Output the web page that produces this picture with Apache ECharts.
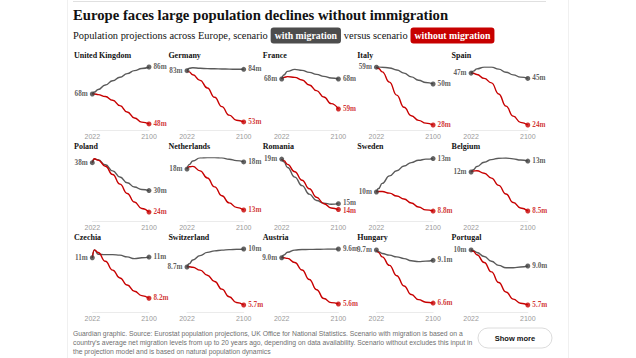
<!DOCTYPE html>
<html><head><meta charset="utf-8">
<script src="https://cdn.jsdelivr.net/npm/echarts@6/dist/echarts.min.js"></script>
<style>html,body{margin:0;padding:0;background:#fff}#c{width:636px;height:358px}</style>
</head><body><div id="c"></div>
<script>
// ---------- data ----------
const YEARS = [2022, 2025, 2030, 2040, 2050, 2060, 2070, 2080, 2090, 2100];
const X_TICKS = [2022, 2100];
const COUNTRIES = ['United Kingdom','Germany','France','Italy','Spain',
  'Poland','Netherlands','Romania','Sweden','Belgium',
  'Czechia','Switzerland','Austria','Hungary','Portugal'];
// population (millions), scenario with migration
const WITH_MIGRATION = [
  [68, 69.3, 71, 74, 76.8, 79.2, 81.6, 83.6, 85, 86],
  [83.2, 84.6, 84.9, 84.6, 84.4, 84.3, 84.2, 84.1, 84.0, 84.0],
  [68, 69.2, 70.3, 70.9, 70.6, 70, 69.4, 68.8, 68.3, 68],
  [59, 59.1, 59, 58.6, 57.5, 55.8, 53.8, 52, 50.8, 50],
  [47.4, 48.3, 49.3, 50.1, 50.1, 49.2, 47.8, 46.6, 45.6, 45],
  [37.8, 38.8, 38.6, 37.2, 35.5, 33.8, 32.2, 31, 30.3, 30],
  [17.6, 18.1, 18.5, 18.85, 18.9, 18.9, 18.85, 18.7, 18.55, 18.4],
  [19, 18.75, 18.2, 17.3, 16.5, 15.7, 15.1, 14.85, 14.75, 14.8],
  [10.45, 10.75, 11.2, 11.85, 12.3, 12.7, 13.0, 13.2, 13.3, 13.35],
  [11.7, 11.9, 12.15, 12.5, 12.72, 12.83, 12.85, 12.78, 12.68, 12.6],
  [10.5, 10.95, 10.7, 10.68, 10.68, 10.65, 10.55, 10.45, 10.5, 10.54],
  [8.7, 8.95, 9.25, 9.6, 9.85, 9.97, 10.03, 10.07, 10.1, 10.12],
  [9.0, 9.2, 9.4, 9.56, 9.6, 9.61, 9.62, 9.63, 9.64, 9.64],
  [9.7, 9.6, 9.5, 9.4, 9.3, 9.2, 9.07, 9.02, 9.05, 9.1],
  [10.36, 10.3, 10.15, 9.8, 9.4, 9.05, 8.85, 8.85, 8.92, 9.0]
];
// population (millions), scenario without migration
const WITHOUT_MIGRATION = [
  [68, 68, 67.6, 66.3, 63.8, 60.2, 56, 52, 49.2, 48],
  [83.2, 82.5, 80.8, 77.5, 73, 67.5, 62, 57, 54, 53],
  [68, 68.5, 68.7, 68.5, 67.7, 66.2, 64.5, 62.6, 60.6, 59],
  [59, 58.3, 56.5, 51, 44, 37.5, 33, 30.5, 29, 28],
  [47.4, 47.3, 46.8, 45, 43, 38, 32.5, 28, 25.2, 24],
  [37.8, 38.9, 38.5, 36.8, 34.5, 31.8, 29.2, 26.8, 25, 24],
  [17.6, 17.85, 17.9, 17.4, 16.6, 15.6, 14.6, 13.8, 13.3, 13.0],
  [19, 18.85, 18.5, 17.8, 17.0, 16.2, 15.4, 14.8, 14.4, 14.25],
  [10.45, 10.5, 10.5, 10.35, 10.1, 9.85, 9.5, 9.15, 8.9, 8.8],
  [11.7, 11.78, 11.8, 11.6, 11.2, 10.6, 9.9, 9.2, 8.75, 8.5],
  [10.5, 10.95, 10.8, 10.3, 9.8, 9.35, 8.95, 8.6, 8.35, 8.2],
  [8.7, 8.72, 8.68, 8.45, 8.05, 7.55, 6.95, 6.35, 5.9, 5.7],
  [9.0, 9.0, 8.95, 8.65, 8.1, 7.4, 6.65, 6.0, 5.7, 5.6],
  [9.7, 9.55, 9.3, 8.8, 8.2, 7.6, 7.1, 6.8, 6.65, 6.6],
  [10.36, 10.25, 9.95, 9.3, 8.5, 7.6, 6.8, 6.2, 5.85, 5.7]
];
// per-panel y-axis domains
const Y_MIN = [47.3, 51.2, 54.2, 28, 24, 22.9, 12.33, 13.64, 8.37, 8.09, 7.7, 5.54, 5.38, 6.37, 5.53];
const Y_MAX = [86, 85.35, 71.6, 59.1, 50.15, 39.1, 18.84, 19.1, 13.4, 12.85, 11.0, 10.12, 9.64, 9.76, 10.44];

const TITLE = 'Europe faces large population declines without immigration';
const SUB_A = 'Population projections across Europe, scenario';
const SUB_B = 'with migration';
const SUB_C = 'versus scenario';
const SUB_D = 'without migration';
const FOOTER = [
  'Guardian graphic. Source: Eurostat population projections, UK Office for National Statistics. Scenario with migration is based on a',
  "country's average net migration levels from up to 20 years ago, depending on data availability. Scenario without excludes this input in",
  'the projection model and is based on natural population dynamics'
];
const BUTTON = 'Show more';

// ---------- styling / layout ----------
const GREY = '#5a5a5a', RED = '#c70000', DOT = '#3f3f3f', LABEL = '#333333';
const SERIF = '"Liberation Serif", "DejaVu Serif", serif';
const SANS = '"Liberation Sans", "DejaVu Sans", sans-serif';
const COL0 = 92.3, COLW = 94.7, PW = 56.7;
const ROW0 = 67, ROWH = 91, PH = 58;

const fmt = v => (v >= 9.95 ? Math.round(v) : v.toFixed(1)) + 'm';

const grid = [], xAxis = [], yAxis = [], series = [];
const graphic = [];
COUNTRIES.forEach((name, i) => {
  const c = i % 5, r = Math.floor(i / 5);
  grid.push({left: COL0 + COLW * c, top: ROW0 + ROWH * r, width: PW, height: PH});
  xAxis.push({gridIndex: i, type: 'value', min: 2022, max: 2100, offset: 5,
    axisLine: {show: true, lineStyle: {color: '#ebebeb', width: 1}},
    axisTick: {show: false}, splitLine: {show: false},
    axisLabel: {customValues: X_TICKS, formatter: v => String(v), color: '#9a9a9a',
      fontSize: 7, fontFamily: SANS, margin: 3}});
  yAxis.push({gridIndex: i, type: 'value', min: Y_MIN[i], max: Y_MAX[i], show: false});
  const w = WITH_MIGRATION[i], wo = WITHOUT_MIGRATION[i];
  series.push({type: 'line', xAxisIndex: i, yAxisIndex: i, silent: true, z: 2, color: GREY,
    data: YEARS.map((y, k) => [y, w[k]]), smooth: 0.5, smoothMonotone: 'x', symbol: 'none',
    lineStyle: {color: GREY, width: 1.4}});
  series.push({type: 'line', xAxisIndex: i, yAxisIndex: i, silent: true, z: 3, color: RED,
    data: YEARS.map((y, k) => [y, wo[k]]), smooth: 0.5, smoothMonotone: 'x', symbol: 'none',
    lineStyle: {color: RED, width: 1.4}});
  const last = YEARS.length - 1;
  // nudge end labels apart when the two end points sit close together
  const gapPx = Math.abs(w[last] - wo[last]) / (Y_MAX[i] - Y_MIN[i]) * PH;
  const nudge = gapPx < 8 ? (8 - gapPx) / 2 : 0;
  const lbl = (pos, color, dy) => ({show: true, position: pos, distance: 2, color, fontFamily: SERIF,
    fontWeight: 'bold', fontSize: 7.2, textBorderWidth: 0, textBorderColor: 'transparent', offset: [0, dy],
    formatter: p => fmt(p.value[1])});
  series.push({type: 'scatter', xAxisIndex: i, yAxisIndex: i, silent: true, z: 5, symbolSize: 5,
    color: DOT, itemStyle: {color: DOT}, label: lbl('right', LABEL, 0),
    data: [
      {value: [YEARS[last], wo[last]], itemStyle: {color: RED}, label: lbl('right', RED, nudge)},
      {value: [YEARS[last], w[last]], itemStyle: {color: DOT}, label: lbl('right', LABEL, -nudge)},
      {value: [YEARS[0], w[0]], itemStyle: {color: DOT}, label: lbl('left', LABEL, 0)}
    ]});
  graphic.push({type: 'text', x: 74 + 94.4 * c, y: 55.7 + ROWH * r,
    style: {text: name, font: 'bold 8px ' + SERIF, fill: '#121212', verticalAlign: 'middle'}});
});

graphic.push({type: 'text', x: 73, y: 15,
  style: {text: TITLE, font: 'bold 14.7px ' + SERIF, fill: '#121212', verticalAlign: 'middle'}});
FOOTER.forEach((t, k) => graphic.push({type: 'text', x: 73, y: 333 + 9 * k,
  style: {text: t, font: '6.8px ' + SANS, fill: '#707070', verticalAlign: 'middle'}}));
graphic.push({type: 'rect', shape: {x: 478, y: 328, width: 74, height: 20, r: 10},
  style: {fill: '#fff', stroke: '#dcdcdc', lineWidth: 1}});
graphic.push({type: 'text', x: 515, y: 338,
  style: {text: BUTTON, font: 'bold 7.5px ' + SANS, fill: '#121212', align: 'center', verticalAlign: 'middle'}});
graphic.push({type: 'line', shape: {x1: 67.5, y1: 0, x2: 67.5, y2: 358}, style: {stroke: '#f0f0f0', lineWidth: 1}});
graphic.push({type: 'line', shape: {x1: 568.5, y1: 0, x2: 568.5, y2: 358}, style: {stroke: '#f0f0f0', lineWidth: 1}});
graphic.push({type: 'line', shape: {x1: 73, y1: 1.5, x2: 546, y2: 1.5}, style: {stroke: '#e0e0e0', lineWidth: 1}});

const chart = echarts.init(document.getElementById('c'), null, {renderer: 'svg'});
chart.setOption({
  animation: false,
  title: [{
    text: '{a|' + SUB_A + '} {b|' + SUB_B + '} {a|' + SUB_C + '} {d|' + SUB_D + '}',
    left: 73, top: 27.5, padding: 0,
    textStyle: {fontWeight: 'normal', fontSize: 10.4, rich: {
      a: {fontFamily: SERIF, fontSize: 10.4, fontWeight: 'normal', color: '#121212'},
      b: {fontFamily: SERIF, fontSize: 9.8, fontWeight: 'bold', color: '#fff', backgroundColor: '#4d4d4d', borderRadius: 3, padding: [3, 4]},
      d: {fontFamily: SERIF, fontSize: 9.8, fontWeight: 'bold', color: '#fff', backgroundColor: RED, borderRadius: 3, padding: [3, 4]}
    }}
  }],
  grid, xAxis, yAxis, series, graphic
});
</script></body></html>
